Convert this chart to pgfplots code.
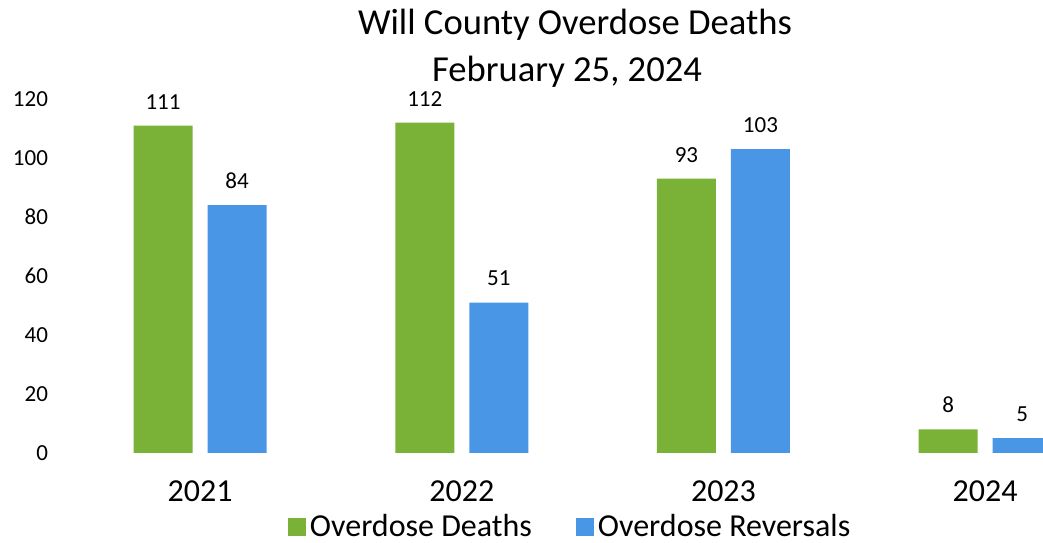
\documentclass[border=0pt]{standalone}
\usepackage{fontspec}
\setmainfont{Carlito}
\usepackage{pgfplots}
\pgfplotsset{compat=1.18}
\definecolor{cgreen}{RGB}{122,178,56}
\definecolor{cblue}{RGB}{74,150,230}
\begin{document}
\begin{tikzpicture}
\begin{axis}[
  at={(35bp,45bp)}, anchor=south west,
  scale only axis, width=486.5bp, height=177bp,
  clip=false,
  xmin=-0.497, xmax=3.221, ymin=0, ymax=120,
  ybar=7.5bp, bar width=29.5bp,
  xtick={0,1,2,3}, xticklabels={2021,2022,2023,2024},
  ytick={0,20,...,120},
  axis line style={draw=none}, major tick length=0pt,
  /pgf/number format/assume math mode=true,
  xticklabel style={font=\fontsize{16bp}{19bp}\selectfont, anchor=base, yshift=-24.5bp},
  yticklabel style={font=\fontsize{11.5bp}{13bp}\selectfont, anchor=east, xshift=-7.5bp},
  nodes near coords,
  every node near coord/.append style={font=\fontsize{11.5bp}{13bp}\selectfont, anchor=south, inner sep=0pt, yshift=8bp, text=black},
  legend columns=2,
  legend style={at={(0.515,-0.209)}, anchor=center, draw=none, fill=none,
    font=\fontsize{16bp}{19bp}\selectfont, /tikz/every even column/.append style={column sep=20bp},
    inner sep=0pt},
  legend image code/.code={\fill[#1] (0bp,-4.5bp) rectangle (9bp,4.5bp);},
]
\addplot[fill=cgreen, draw=none] coordinates {(0,111) (1,112) (2,93) (3,8)};
\addplot[fill=cblue, draw=none] coordinates {(0,84) (1,51) (2,103) (3,5)};
\legend{Overdose Deaths, Overdose Reversals}
\end{axis}
\node[anchor=base, font=\fontsize{18.3bp}{22bp}\selectfont] at (287.5bp,254bp) {Will County Overdose Deaths};
\node[anchor=base, font=\fontsize{18.3bp}{22bp}\selectfont] at (283.5bp,230.5bp) {February 25, 2024};
\pgfresetboundingbox
\path[use as bounding box] (0,0) rectangle (521.5bp,271.5bp);
\end{tikzpicture}
\end{document}
